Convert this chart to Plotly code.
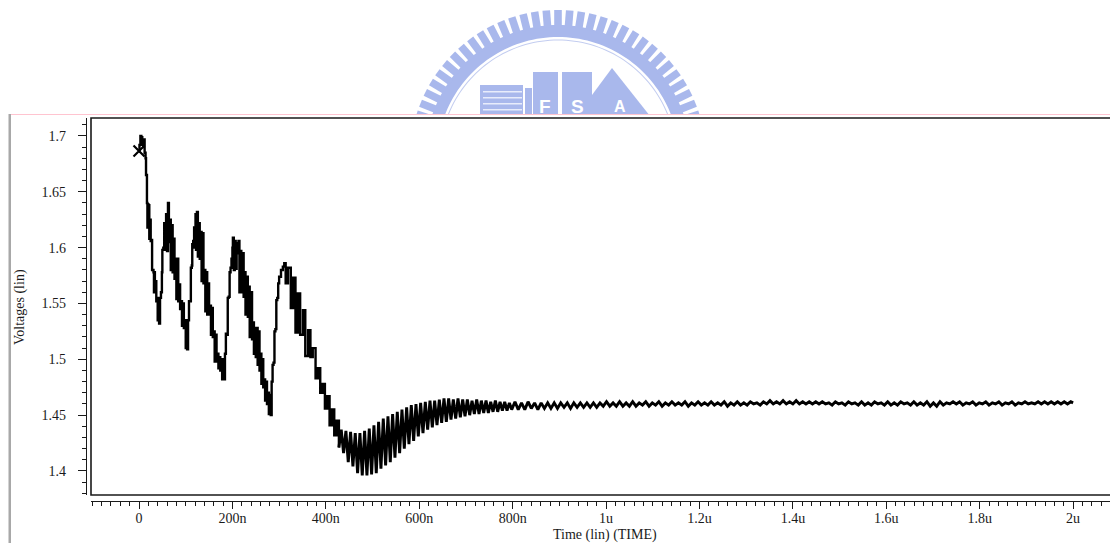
import math
import plotly.graph_objects as go

# Values: (time in ns, volts)
initial_transient = [(0,1.686),(1,1.692),(3,1.700),(5,1.699),(7,1.692),(9,1.690),(11,1.697),(12,1.685),(14,1.680),(15,1.665),(17,1.640),(18,1.618),(19,1.639),(20,1.620),(21,1.638),(22,1.608),(23,1.625),(25,1.606),(27,1.607),(28,1.580),(31,1.578),(32,1.560),(33,1.578),(34,1.560),(36,1.570),(37,1.552),(39,1.555),(40,1.535),(41,1.552),(43,1.532),(45,1.555),(47,1.560),(49,1.578),(50,1.598),(52,1.600)]
hump_two = [(54,1.622),(56,1.598),(58,1.630),(60,1.597),(62,1.640),(64,1.605),(66,1.625),(68,1.580),(70,1.620),(72,1.578),(74,1.608),(76,1.572),(78,1.590),(80,1.554),(82,1.590),(84,1.552),(86,1.567),(88,1.545),(90,1.552),(92,1.530),(94,1.550),(96,1.528),(98,1.535),(100,1.510),(102,1.530),(103,1.509),(105,1.535),(107,1.552),(109,1.552),(111,1.582),(113,1.584),(114,1.603),(116,1.606)]
hump_three = [(118,1.618),(119,1.600),(121,1.630),(122,1.598),(124,1.632),(126,1.592),(128,1.622),(130,1.590),(132,1.614),(134,1.570),(136,1.613),(138,1.568),(140,1.580),(142,1.543),(144,1.578),(146,1.540),(148,1.568),(150,1.540),(152,1.548),(154,1.522),(156,1.546),(158,1.520),(160,1.525),(162,1.498),(164,1.522),(166,1.498),(168,1.505),(170,1.492),(172,1.502),(174,1.490),(176,1.500),(178,1.482),(180,1.500),(182,1.482),(184,1.505),(186,1.523),(188,1.522),(190,1.555),(192,1.556),(194,1.578),(196,1.582),(198,1.590)]
hump_four = [(200,1.600),(201,1.609),(203,1.580),(205,1.606),(207,1.581),(209,1.604),(211,1.595),(213,1.606),(215,1.560),(217,1.597),(219,1.560),(222,1.595),(224,1.556),(226,1.578),(228,1.540),(231,1.574),(233,1.538),(235,1.565),(237,1.520),(240,1.560),(242,1.518),(244,1.533),(246,1.505),(248,1.528),(250,1.502),(252,1.528),(254,1.495),(256,1.525),(258,1.490),(260,1.505),(262,1.478),(264,1.500),(266,1.475),(268,1.482),(270,1.463),(272,1.480),(274,1.460),(276,1.470),(278,1.451),(280,1.468),(282,1.450),(284,1.480),(286,1.495),(288,1.497),(290,1.525),(292,1.527),(294,1.553),(296,1.555),(298,1.568),(300,1.574),(304,1.580),(308,1.583),(311,1.586)]
ring_down = [(314,1.568),(319,1.582),(325,1.546),(330,1.573),(335,1.524),(340,1.559),(345,1.522),(351,1.544),(356,1.503),(362,1.526),(367,1.502),(372,1.510),(378,1.483),(383,1.492),(388,1.470),(393,1.478),(398,1.456),(403,1.467),(408,1.441),(413,1.455),(418,1.432),(423,1.445),(428,1.421)]
ring_trough = [(433,1.437),(438,1.416),(443,1.436),(448,1.408),(453,1.435),(458,1.404),(463,1.434),(468,1.398),(473,1.434),(478,1.396),(483,1.436),(488,1.396),(493,1.438),(498,1.397),(503,1.441),(508,1.398),(513,1.444),(518,1.402),(523,1.447),(528,1.405),(533,1.449),(538,1.408),(543,1.451),(548,1.412),(553,1.453),(558,1.416),(563,1.455),(568,1.420),(573,1.457),(578,1.424),(583,1.459),(588,1.427),(593,1.460),(598,1.431)]
ring_recover = [(603,1.461),(608,1.434),(613,1.462),(618,1.437),(623,1.463),(628,1.439),(633,1.463),(638,1.441),(643,1.464),(648,1.443),(653,1.465),(658,1.444),(663,1.465),(668,1.446),(673,1.464),(678,1.447),(683,1.465),(688,1.448),(693,1.464),(698,1.449),(703,1.464),(708,1.450),(713,1.463),(718,1.451),(723,1.464),(728,1.451),(733,1.463),(738,1.452),(743,1.463),(748,1.452),(753,1.462),(758,1.453),(763,1.463),(768,1.453),(773,1.462),(778,1.454),(783,1.462),(788,1.454),(793,1.461),(798,1.455)]
settling = [(805,1.462),(812,1.455),(819,1.461),(826,1.455),(833,1.462),(840,1.456),(847,1.461),(854,1.455),(861,1.461),(868,1.456),(875,1.461),(882,1.456),(889,1.461),(896,1.456),(903,1.461),(910,1.457),(917,1.461),(924,1.456),(931,1.461),(938,1.457),(945,1.461),(952,1.457),(959,1.461),(966,1.457),(973,1.461),(980,1.457),(987,1.461),(994,1.458),(1001,1.462),(1008,1.458),(1015,1.461),(1022,1.458),(1029,1.462),(1036,1.458),(1043,1.461),(1050,1.458),(1057,1.462),(1064,1.458),(1071,1.461),(1078,1.459),(1085,1.462),(1092,1.458),(1099,1.461),(1106,1.459),(1113,1.462),(1120,1.458),(1127,1.461),(1134,1.459),(1141,1.462),(1148,1.459),(1155,1.461),(1162,1.459),(1169,1.462),(1176,1.458),(1183,1.461),(1190,1.459)]
settled_a = [(1197,1.462),(1204,1.459),(1211,1.461),(1218,1.459),(1225,1.462),(1232,1.459),(1239,1.461),(1246,1.459),(1253,1.462),(1260,1.458),(1267,1.461),(1274,1.459),(1281,1.462),(1288,1.459),(1295,1.461),(1302,1.459),(1309,1.462),(1316,1.460),(1323,1.461),(1330,1.459),(1337,1.462),(1344,1.460),(1351,1.463),(1358,1.460),(1365,1.462),(1372,1.460),(1379,1.463),(1386,1.460),(1393,1.462),(1400,1.460),(1407,1.463),(1414,1.460),(1421,1.462),(1428,1.460),(1435,1.462),(1442,1.460),(1449,1.462),(1456,1.460),(1463,1.462),(1470,1.460),(1477,1.461),(1484,1.459),(1491,1.462),(1498,1.460),(1505,1.461),(1512,1.459),(1519,1.462),(1526,1.460),(1533,1.461),(1540,1.459),(1547,1.462),(1554,1.459),(1561,1.461),(1568,1.459),(1575,1.462),(1582,1.460),(1589,1.461),(1596,1.459)]
settled_b = [(1603,1.462),(1610,1.459),(1617,1.461),(1624,1.459),(1631,1.462),(1638,1.460),(1645,1.461),(1652,1.459),(1659,1.462),(1666,1.459),(1673,1.461),(1680,1.459),(1687,1.462),(1694,1.458),(1701,1.461),(1708,1.458),(1715,1.462),(1722,1.459),(1729,1.461),(1736,1.460),(1743,1.462),(1750,1.460),(1757,1.462),(1764,1.459),(1771,1.461),(1778,1.460),(1785,1.462),(1792,1.459),(1799,1.461),(1806,1.460),(1813,1.462),(1820,1.459),(1827,1.461),(1834,1.460),(1841,1.462),(1848,1.459),(1855,1.461),(1862,1.460),(1869,1.462),(1876,1.459),(1883,1.461),(1890,1.460),(1897,1.462),(1904,1.460),(1911,1.461),(1918,1.460),(1925,1.462),(1932,1.460),(1939,1.462),(1946,1.460),(1953,1.462),(1960,1.460),(1967,1.462),(1974,1.460),(1981,1.462),(1988,1.460),(1995,1.462),(2000,1.461)]
marker_point = [(0, 1.6866)]

x_tick_vals = [0,200,400,600,800,1000,1200,1400,1600,1800,2000]
x_tick_text = ["0","200n","400n","600n","800n","1u","1.2u","1.4u","1.6u","1.8u","2u"]
y_tick_vals = [1.4,1.45,1.5,1.55,1.6,1.65,1.7]
y_tick_text = ["1.4","1.45","1.5","1.55","1.6","1.65","1.7"]

early_curve = initial_transient + hump_two + hump_three + hump_four + ring_down
late_curve = early_curve[-1:] + ring_trough + ring_recover + settling + settled_a + settled_b

W, H = 1110, 543
L, R, T, B = 86, 0, 118, 42
PW, PH = W - L - R, H - T - B
INK = "#1a1a1a"
SERIF = "Liberation Serif"
LOGO = "#a9b8ec"

def px(x):
    return (x - L) / PW

def py(y):
    return 1 - (y - T) / PH

def path(points):
    return "M " + " L ".join(f"{px(x):.5f},{py(y):.5f}" for x, y in points) + " Z"

def paper_shape(points, color):
    return dict(type="path", xref="paper", yref="paper", path=path(points),
                fillcolor=color, line=dict(width=0), layer="below")

# Watermark logo, in page pixels
cx, cy = 558, 158
band = []
for i in range(0, 81):
    a = math.radians(-80 + 2 * i)
    band.append((cx + 133 * math.sin(a), cy - 133 * math.cos(a)))
for i in range(80, -1, -1):
    a = math.radians(-80 + 2 * i)
    band.append((cx + 121 * math.sin(a), cy - 121 * math.cos(a)))
shapes = [paper_shape(band, LOGO)]
for k in range(-17, 18):
    a = math.radians(k * 4.55)
    s, c = math.sin(a), math.cos(a)
    hw = 3.8
    tooth = [(cx + r * s + d * c, cy - r * c + d * s) for r, d in
             [(131, -hw), (148, -hw), (148, hw), (131, hw)]]
    shapes.append(paper_shape(tooth, LOGO))
ring = []
for i in range(0, 81):
    a = math.radians(-80 + 2 * i)
    ring.append((cx + 118.5 * math.sin(a), cy - 118.5 * math.cos(a)))
for i in range(80, -1, -1):
    a = math.radians(-80 + 2 * i)
    ring.append((cx + 117.5 * math.sin(a), cy - 117.5 * math.cos(a)))
shapes.append(paper_shape(ring, "#c3cdf0"))
for pts in [
    [(480, 85), (523, 85), (523, 116), (480, 116)],
    [(525, 88), (532, 88), (532, 116), (525, 116)],
    [(533, 72), (558, 72), (558, 116), (533, 116)],
    [(562, 72), (592, 72), (592, 116), (562, 116)],
    [(612, 68), (650, 116), (592, 116), (592, 95)],
]:
    shapes.append(paper_shape(pts, LOGO))
for yy in [91, 97, 103, 109]:
    shapes.append(paper_shape([(483, yy), (522, yy), (522, yy + 1.6), (483, yy + 1.6)], "#e8ecfb"))
# mask below the rule, the rule and the side bar
shapes.append(dict(type="rect", xref="paper", yref="paper", x0=px(0), x1=px(W), y0=py(H), y1=py(115),
                   fillcolor="white", line=dict(width=0), layer="below"))
shapes.append(dict(type="line", xref="paper", yref="paper", x0=px(10), x1=px(W), y0=py(114.5), y1=py(114.5),
                   line=dict(color="#ffc4d0", width=1.2), layer="below"))
shapes.append(dict(type="rect", xref="paper", yref="paper", x0=px(8.5), x1=px(11), y0=py(H), y1=py(114),
                   fillcolor="#a8a8a8", line=dict(width=0), layer="below"))
# plot frame
shapes.append(dict(type="rect", xref="x domain", yref="y domain", x0=0, x1=1.01, y0=0, y1=1,
                   line=dict(color=INK, width=1.6), layer="above"))

fig = go.Figure()
fig.add_trace(go.Scatter(x=[p[0] for p in early_curve], y=[p[1] for p in early_curve], mode="lines",
                         line=dict(color="black", width=2.4, shape="hv"), name="Voltage", showlegend=False))
fig.add_trace(go.Scatter(x=[p[0] for p in late_curve], y=[p[1] for p in late_curve], mode="lines",
                         line=dict(color="black", width=2.9), name="Voltage (settling)", showlegend=False))
fig.add_trace(go.Scatter(x=[p[0] for p in marker_point], y=[p[1] for p in marker_point], mode="markers",
                         marker=dict(symbol="x-thin", size=11, line=dict(color="black", width=2.2)),
                         name="Cursor", showlegend=False))

fig.update_layout(
    width=W, height=H, autosize=False,
    margin=dict(l=L, r=R, t=T, b=B, pad=0),
    paper_bgcolor="rgba(0,0,0,0)", plot_bgcolor="rgba(0,0,0,0)",
    font=dict(family=SERIF, size=14, color=INK),
    shapes=shapes,
    xaxis=dict(domain=[5 / PW, 1], anchor="free", position=0, range=[-102.8, 2079],
               showgrid=False, zeroline=False, showline=True, linecolor=INK, linewidth=1.2,
               ticks="outside", ticklen=6.5, tickwidth=1, tickcolor=INK,
               tickvals=x_tick_vals, ticktext=x_tick_text, tickfont=dict(family=SERIF, size=14, color=INK),
               minor=dict(dtick=20, tick0=0, ticks="outside", ticklen=3.5, tickwidth=1, tickcolor=INK, showgrid=False),
               ticklabelstandoff=-2),
    yaxis=dict(domain=[6 / PH, 1], anchor="free", position=0, range=[1.3785, 1.7161],
               showgrid=False, zeroline=False, showline=True, linecolor=INK, linewidth=1.2,
               ticks="outside", ticklen=8, tickwidth=1, tickcolor=INK,
               tickvals=y_tick_vals, ticktext=y_tick_text, tickfont=dict(family=SERIF, size=14, color=INK),
               minor=dict(dtick=0.01, tick0=1.4, ticks="outside", ticklen=3.5, tickwidth=1, tickcolor=INK, showgrid=False),
               ticklabelstandoff=9),
    annotations=[
        dict(text="Time (lin) (TIME)", xref="paper", yref="paper", x=px(605), y=py(535), showarrow=False,
             xanchor="center", yanchor="middle", font=dict(family=SERIF, size=14, color=INK)),
        dict(text="Voltages (lin)", xref="paper", yref="paper", x=px(20), y=py(307), showarrow=False, textangle=-90,
             xanchor="center", yanchor="middle", font=dict(family=SERIF, size=14, color=INK)),
        dict(text="<b>F</b>", xref="paper", yref="paper", x=px(545), y=py(107), showarrow=False, yanchor="middle",
             font=dict(family="Liberation Sans", size=19, color="white")),
        dict(text="<b>S</b>", xref="paper", yref="paper", x=px(577), y=py(107), showarrow=False, yanchor="middle",
             font=dict(family="Liberation Sans", size=19, color="white")),
        dict(text="<b>A</b>", xref="paper", yref="paper", x=px(620), y=py(106), showarrow=False, yanchor="middle",
             font=dict(family="Liberation Sans", size=16, color="white")),
    ],
)
fig.write_html("out.html", config=dict(displayModeBar=False),
               post_script="document.body.style.margin='0';document.documentElement.style.overflow='hidden';")
